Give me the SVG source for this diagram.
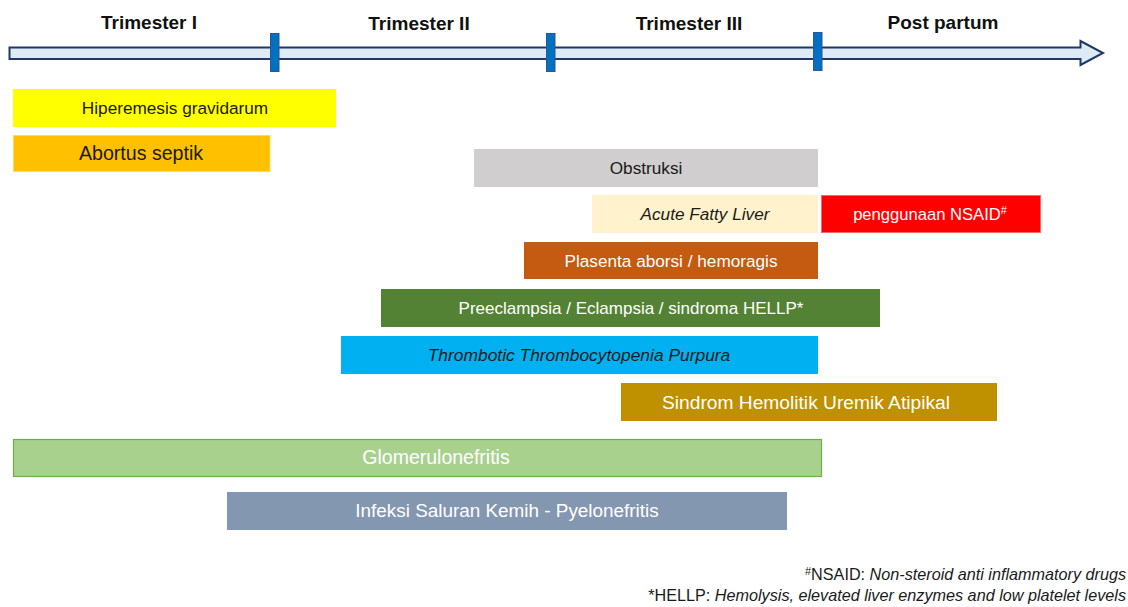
<svg xmlns="http://www.w3.org/2000/svg" width="1128" height="607" viewBox="0 0 1128 607">
  <style>
    text { font-family: "Liberation Sans", "Open Sans", sans-serif; }
    .head { font-size: 19px; font-weight: bold; fill: #111; text-anchor: middle; }
    .lbl { font-size: 17.2px; text-anchor: middle; }
    .dark { fill: #1a1a1a; }
    .light { fill: #ffffff; }
    .it { font-style: italic; }
    .tick { fill: #0070C0; stroke: #2F5597; stroke-width: 1; }
    .note { font-size: 16.2px; fill: #1a1a1a; text-anchor: end; }
  </style>

  <rect width="1128" height="607" fill="#ffffff"/>

  <!-- timeline -->
  <g id="timeline">
    <path d="M9.5,47.5 H1080.5 V41 L1103,53 L1080.5,65 V59 H9.5 Z" fill="#DEEBF7" stroke="#203864" stroke-width="2" stroke-linejoin="miter"/>
    <rect class="tick" x="270.5" y="33.5" width="8.5" height="38"/>
    <rect class="tick" x="546.5" y="33.5" width="8.5" height="38"/>
    <rect class="tick" x="813.5" y="32.5" width="8.5" height="38"/>
    <text class="head" x="149" y="29">Trimester I</text>
    <text class="head" x="419" y="30">Trimester II</text>
    <text class="head" x="689" y="30">Trimester III</text>
    <text class="head" x="943" y="29">Post partum</text>
  </g>

  <g id="hiperemesis">
    <rect x="13" y="89" width="323" height="38" fill="#FFFF00"/>
    <text class="lbl dark" x="175" y="114">Hiperemesis gravidarum</text>
  </g>
  <g id="abortus">
    <rect x="13.5" y="135.5" width="256.5" height="36" fill="#FFC000" stroke="#FFD966" stroke-width="1"/>
    <text class="lbl dark" x="141" y="160" style="font-size:19.6px">Abortus septik</text>
  </g>
  <g id="obstruksi">
    <rect x="474" y="149" width="344" height="38" fill="#D0CECE"/>
    <text class="lbl dark" x="646" y="174">Obstruksi</text>
  </g>
  <g id="afl">
    <rect x="592" y="195" width="226" height="38" fill="#FFF2CC"/>
    <text class="lbl dark it" x="705" y="220">Acute Fatty Liver</text>
  </g>
  <g id="nsaid">
    <rect x="821.5" y="195.5" width="219" height="37" fill="#FF0000" stroke="#FF6666" stroke-width="1"/>
    <text class="lbl light" x="930" y="220" style="font-size:16.6px">penggunaan NSAID<tspan font-size="11" dy="-6">#</tspan></text>
  </g>
  <g id="plasenta">
    <rect x="524" y="242" width="294" height="37" fill="#C55A11"/>
    <text class="lbl light" x="671" y="267">Plasenta aborsi / hemoragis</text>
  </g>
  <g id="preeclampsia">
    <rect x="381" y="289" width="499" height="38" fill="#548235"/>
    <text class="lbl light" x="631" y="314" style="font-size:17px">Preeclampsia / Eclampsia / sindroma HELLP*</text>
  </g>
  <g id="ttp">
    <rect x="341" y="336" width="477" height="38" fill="#00B0F0"/>
    <text class="lbl dark it" x="579" y="361" style="font-size:17.4px">Thrombotic Thrombocytopenia Purpura</text>
  </g>
  <g id="shua">
    <rect x="621" y="383" width="376" height="38" fill="#BF9000"/>
    <text class="lbl light" x="806" y="409" style="font-size:19.2px">Sindrom Hemolitik Uremik Atipikal</text>
  </g>
  <g id="glomerulonefritis">
    <rect x="13.5" y="439.5" width="808" height="37" fill="#A9D18E" stroke="#70AD47" stroke-width="1.2"/>
    <text class="lbl light" x="436" y="464" style="font-size:19.5px">Glomerulonefritis</text>
  </g>
  <g id="isk">
    <rect x="227" y="492" width="560" height="38" fill="#8497B0"/>
    <text class="lbl light" x="507" y="517" style="font-size:18.9px">Infeksi Saluran Kemih - Pyelonefritis</text>
  </g>

  <g id="notes">
    <text class="note" x="1126" y="580"><tspan font-size="11" dy="-5">#</tspan><tspan dy="5">NSAID: </tspan><tspan font-style="italic">Non-steroid anti inflammatory drugs</tspan></text>
    <text class="note" x="1126" y="601">*HELLP: <tspan font-style="italic">Hemolysis, elevated liver enzymes and low platelet levels</tspan></text>
  </g>
</svg>
